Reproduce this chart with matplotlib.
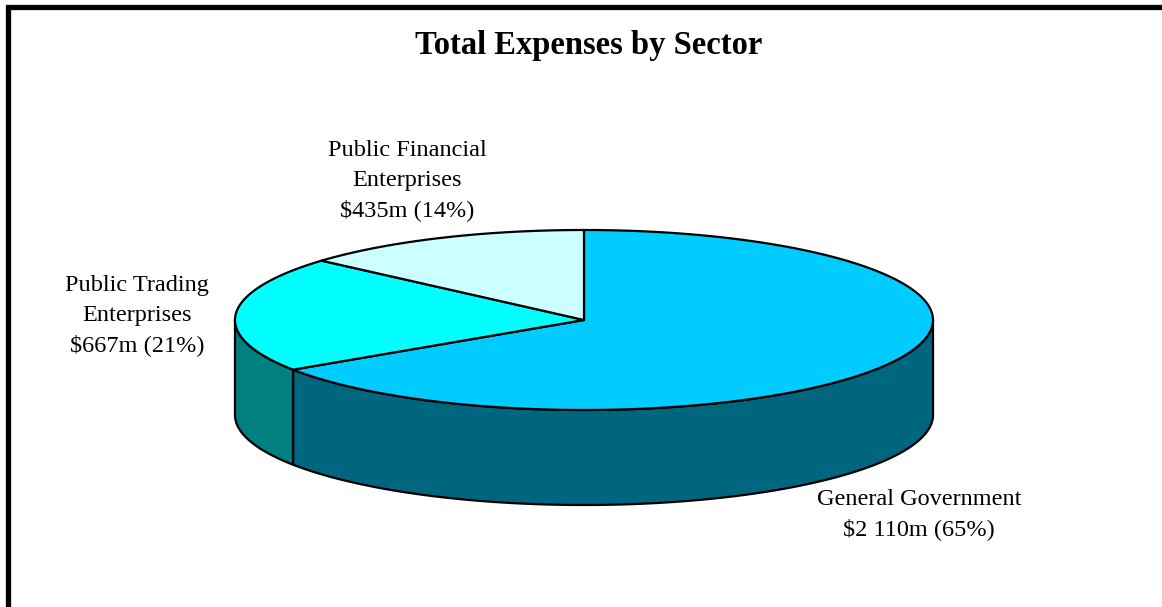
import numpy as np
import matplotlib.pyplot as plt
from matplotlib.patches import Polygon

# expenses by sector, $m
sectors = [["General Government"],
           ["Public Trading", "Enterprises"],
           ["Public Financial", "Enterprises"]]
expenses = [2110, 667, 435]
percents = [65, 21, 14]
top_colors = ["#00CCFF", "#00FFFF", "#CCFFFF"]
side_colors = ["#006680", "#008080", "#99CCCC"]

total = sum(expenses)
shares = [v / total for v in expenses]

fig = plt.figure(figsize=(11.62, 6.07), dpi=100)
ax = fig.add_axes([0, 0, 1, 1])
ax.set_xlim(0, 1162)
ax.set_ylim(607, 0)
ax.axis("off")

# frame lines (left and top)
ax.plot([8, 8, 1162], [610, 7, 7], color="black", lw=3.8,
        solid_joinstyle="miter")

ax.text(589, 54, "Total Expenses by Sector", ha="center", va="baseline",
        fontsize=23.5, fontweight="bold", family="Liberation Serif")

# ellipse geometry of the pie (pixel units)
cx, cy = 584, 320
rx, ry = 349, 90
depth = 95


def arc(t1, t2, dy=0, n=200):
    t = np.radians(np.linspace(t1, t2, n))
    return np.column_stack([cx + rx * np.cos(t), cy - ry * np.sin(t) + dy])


# slices go clockwise from 12 o'clock
bounds = []
start = 90.0
for s in shares:
    end = start - 360 * s
    bounds.append((end, start))
    start = end

# side walls (only the front half, 180..360 degrees, is visible)
for (a, b), col in zip(bounds, side_colors):
    lo, hi = a % 360, a % 360 + (b - a)
    for off in (0, 360, -360):
        s1, s2 = max(lo + off, 180), min(hi + off, 360)
        if s2 > s1:
            top = arc(s1, s2)
            bottom = arc(s2, s1, dy=depth)
            ax.add_patch(Polygon(np.vstack([top, bottom]), closed=True,
                                 fc=col, ec="black", lw=1.6, joinstyle="round"))

# top faces
for (a, b), col in zip(bounds, top_colors):
    pts = np.vstack([[cx, cy], arc(b, a)])
    ax.add_patch(Polygon(pts, closed=True, fc=col, ec="black", lw=1.6,
                         joinstyle="round"))

# slice labels, one line at a time (x centre, first baseline)
label_pos = [(919, 505), (137, 291), (407, 156)]
line_step = 30
for name, v, p, (lx, ly) in zip(sectors, expenses, percents, label_pos):
    money = f"${v:,}m".replace(",", " ")
    lines = name + [f"{money} ({p}%)"]
    for i, line in enumerate(lines):
        ax.text(lx, ly + i * line_step, line, ha="center", va="baseline",
                fontsize=17.5, family="Liberation Serif")

fig.savefig("out.png", dpi=100)
